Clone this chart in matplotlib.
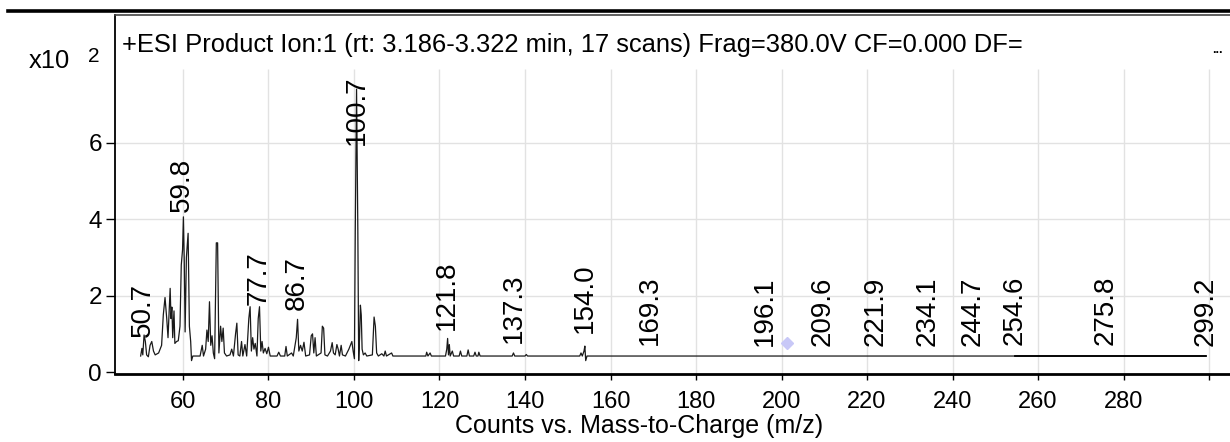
import matplotlib
matplotlib.use("Agg")
import matplotlib.pyplot as plt
from matplotlib.lines import Line2D

plt.rcParams["font.family"] = ["Liberation Sans", "DejaVu Sans"]

TITLE = "+ESI Product Ion:1 (rt: 3.186-3.322 min, 17 scans) Frag=380.0V CF=0.000 DF="
X_LABEL = "Counts vs. Mass-to-Charge (m/z)"

# profile spectrum (m/z, counts x10^2)
mz = [
    50.1, 50.4, 50.6, 50.9, 51.2, 51.5, 51.9, 52.3, 52.7, 53.1, 53.5, 54.3,
    55.0, 55.4, 55.8, 56.2, 56.5, 56.8, 57.0, 57.2, 57.4, 57.6, 57.9, 58.1,
    58.5, 58.9, 59.3, 59.6, 59.9, 60.1, 60.3, 60.5, 60.8, 61.2, 61.5, 61.8,
    62.0, 62.3, 64.0, 64.5, 64.8, 65.3, 65.6, 65.9, 66.2, 66.5, 66.8, 67.1,
    67.4, 67.8, 68.1, 68.4, 68.8, 69.1, 69.4, 69.7, 70.2, 71.0, 71.4, 71.8,
    72.3, 72.6, 72.9, 73.3, 73.7, 74.0, 74.5, 74.9, 75.4, 75.7, 76.0, 76.3,
    76.6, 76.9, 77.3, 77.6, 77.9, 78.2, 78.5, 78.8, 79.2, 79.6, 80.0, 80.4,
    82.0, 82.4, 82.8, 83.8, 84.1, 84.4, 85.4, 85.8, 86.5, 86.8, 87.1, 87.5,
    87.9, 88.3, 88.7, 89.6, 90.0, 90.3, 90.6, 90.9, 91.2, 92.3, 92.6, 92.9,
    93.2, 93.8, 94.5, 94.9, 95.2, 95.6, 96.0, 96.3, 96.6, 97.0, 97.3, 98.0,
    98.8, 99.5, 99.8, 100.1, 100.3, 100.6, 100.9, 101.1, 101.3, 101.5, 101.7,
    101.9, 102.2, 102.6, 103.0, 104.3, 104.7, 105.0, 105.3, 105.7, 106.5,
    107.0, 107.3, 107.6, 108.8, 109.1, 116.8, 117.0, 117.3, 117.8, 118.1,
    121.4, 121.7, 121.9, 122.1, 122.3, 122.5, 123.0, 123.3, 124.6, 124.9,
    125.2, 126.4, 126.7, 127.0, 128.0, 128.3, 128.6, 129.0, 129.2, 129.5,
    137.0, 137.3, 137.6, 140.0, 140.3, 140.6, 152.8, 153.1, 153.4, 153.8,
    154.0, 154.2, 154.5, 299.2,
]
counts = [
    0.42, 0.62, 0.45, 0.97, 0.80, 0.45, 0.40, 0.70, 0.80, 0.55, 0.45, 0.50,
    0.70, 1.50, 1.95, 1.40, 0.90, 1.70, 2.19, 1.40, 1.70, 0.90, 1.60, 0.75,
    0.80, 0.82, 1.20, 2.80, 3.20, 4.06, 2.90, 1.05, 3.00, 3.63, 1.20, 0.80,
    0.30, 0.42, 0.42, 0.70, 0.42, 0.60, 1.10, 0.80, 1.84, 0.70, 0.95, 0.50,
    0.35, 3.38, 3.38, 0.50, 1.20, 0.80, 1.15, 0.50, 0.42, 0.45, 0.60, 0.42,
    1.00, 1.28, 0.45, 0.42, 0.80, 0.42, 0.72, 0.42, 1.40, 1.71, 0.55, 0.90,
    0.60, 0.75, 0.42, 1.40, 1.71, 0.55, 0.80, 0.50, 0.62, 0.48, 0.65, 0.42,
    0.42, 0.52, 0.42, 0.42, 0.67, 0.42, 0.50, 0.42, 0.90, 1.38, 0.55, 0.70,
    0.55, 0.78, 0.42, 0.45, 0.95, 1.00, 0.50, 0.90, 0.42, 0.50, 1.20, 1.15,
    0.45, 0.42, 0.55, 0.77, 0.50, 0.45, 0.72, 0.60, 0.42, 0.70, 0.45, 0.42,
    0.60, 0.80, 0.55, 0.35, 3.70, 7.40, 3.70, 0.30, 0.90, 1.75, 1.49,
    0.60, 0.45, 0.50, 0.42, 0.45, 1.44, 1.20, 0.50, 0.42, 0.48,
    0.42, 0.55, 0.42, 0.50, 0.42, 0.42, 0.52, 0.42, 0.50, 0.42,
    0.42, 0.60, 0.88, 0.45, 0.72, 0.42, 0.55, 0.42, 0.42, 0.55,
    0.42, 0.42, 0.58, 0.42, 0.42, 0.52, 0.42, 0.42, 0.52, 0.42,
    0.42, 0.50, 0.42, 0.42, 0.46, 0.42, 0.42, 0.50, 0.42, 0.55,
    0.68, 0.30, 0.42, 0.42,
]

# darker stretch of baseline at the high-mass end
tail_mz = [254.6, 299.2]
tail_counts = [0.42, 0.42]

# peak labels and the height where each label starts
label_mz = [50.7, 59.8, 77.7, 86.7, 100.7, 121.8, 137.3, 154.0, 169.3,
            196.1, 209.6, 221.9, 234.1, 244.7, 254.6, 275.8, 299.2]
label_heights = [0.92, 4.18, 1.75, 1.62, 5.93, 1.10, 0.76, 1.02, 0.70,
                 0.68, 0.68, 0.68, 0.68, 0.68, 0.70, 0.70, 0.68]

cursor_mz = [201.3]
cursor_counts = [0.76]

x_ticks = list(range(60, 301, 20))
x_tick_labels = [str(t) for t in x_ticks[:-1]] + [""]
y_ticks = [0, 2, 4, 6]

W, H = 1230, 442
fig = plt.figure(figsize=(W / 100, H / 100), dpi=100)
ax = fig.add_axes([115 / W, 1 - 374 / H, 1 - 115 / W, (374 - 15) / H])
ax.set_xlim(44.1, 304.9)
ax.set_ylim(-0.05, 9.34)

# grid: vertical lines stop below the title strip
ax.vlines(x_ticks, -0.05, 7.92, color="#e2e2e2", lw=1, zorder=0)
for y in y_ticks[1:]:
    ax.axhline(y, color="#e2e2e2", lw=1, zorder=0)

ax.plot(mz, counts, color="#1a1a1a", lw=0.9, zorder=2)
ax.plot(tail_mz, tail_counts, color="black", lw=1.3, zorder=2)
ax.plot(cursor_mz, cursor_counts, marker="D", ms=6, color="#c8c8f7",
        ls="none", zorder=3)

for m, h in zip(label_mz, label_heights):
    ax.text(m, h, f"{m:.1f}", rotation=90, ha="center", va="bottom",
            fontsize=20, zorder=4)

ax.set_xticks(x_ticks, x_tick_labels)
ax.set_yticks(y_ticks)
ax.tick_params(axis="x", direction="out", length=4.5, width=1,
               labelsize=17, pad=8)
ax.tick_params(axis="y", direction="out", length=6.5, width=1,
               labelsize=17.5, pad=3)

ax.spines["right"].set_visible(False)
ax.spines["top"].set_color("#444444")
ax.spines["top"].set_linewidth(1.2)
ax.spines["left"].set_linewidth(1.3)
ax.spines["bottom"].set_linewidth(2)

fig.add_artist(Line2D([8 / W, 1], [1 - 10.5 / H] * 2, color="black", lw=2.6))
fig.text(122 / W, 1 - 45 / H, TITLE, fontsize=18.4, va="center", ha="left")
fig.text(29 / W, 1 - 61 / H, "x10", fontsize=18.4, va="center", ha="left")
fig.text(88 / W, 1 - 56 / H, "2", fontsize=15, va="center", ha="left")
fig.text(1212 / W, 1 - 53 / H, "...", fontsize=9, fontweight="bold",
         va="baseline", ha="left")
fig.text(455 / W, 1 - 426 / H, X_LABEL, fontsize=18, va="center", ha="left")

fig.savefig("out.png", dpi=100)
